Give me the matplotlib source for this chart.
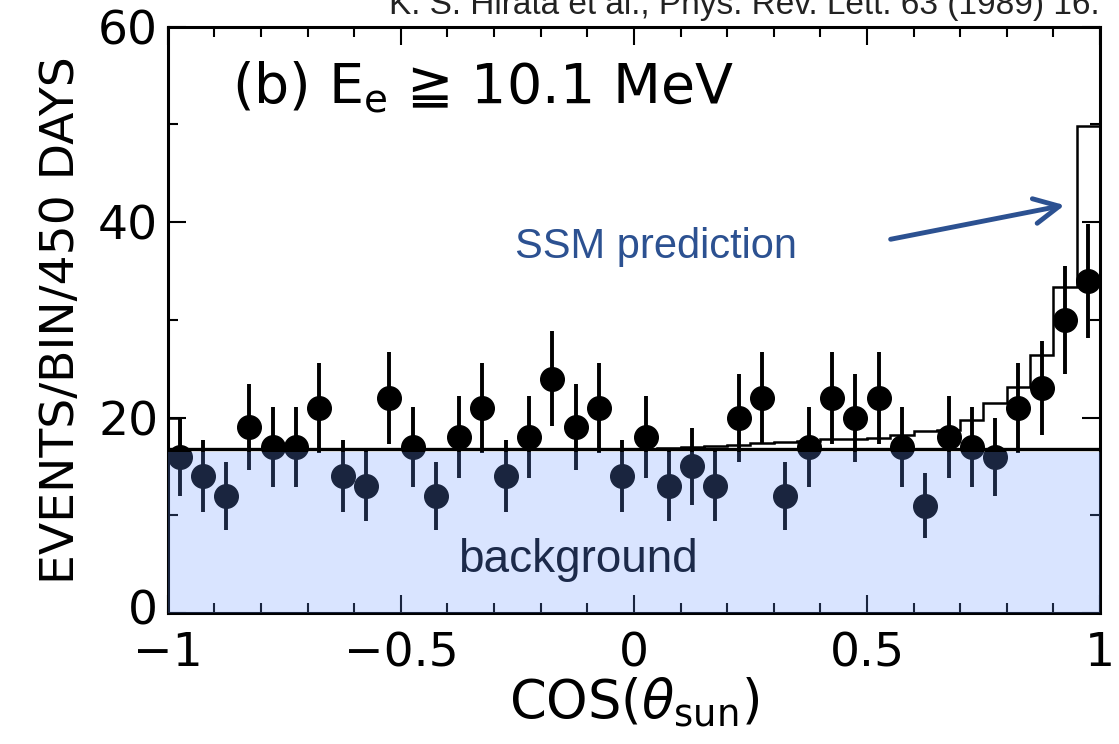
import numpy as np
import matplotlib
matplotlib.use("Agg")
import matplotlib.pyplot as plt
from matplotlib.ticker import MultipleLocator
from matplotlib.transforms import ScaledTranslation

plt.rcParams['font.family'] = ['DejaVu Sans']
plt.rcParams['mathtext.fontset'] = 'dejavusans'

# observed events per bin (40 bins in cos(theta_sun))
counts = [16, 14, 12, 19, 17, 17, 21, 14, 13, 22,
          17, 12, 18, 21, 14, 18, 24, 19, 21, 14,
          18, 13, 15, 13, 20, 22, 12, 17, 22, 20,
          22, 17, 11, 18, 17, 16, 21, 23, 30, 34]
errors = [4.0, 3.7, 3.5, 4.4, 4.1, 4.1, 4.6, 3.7, 3.6, 4.7,
          4.1, 3.5, 4.2, 4.6, 3.7, 4.2, 4.9, 4.4, 4.6, 3.7,
          4.2, 3.6, 3.9, 3.6, 4.5, 4.7, 3.5, 4.1, 4.7, 4.5,
          4.7, 4.1, 3.3, 4.2, 4.1, 4.0, 4.6, 4.8, 5.5, 5.8]

# SSM prediction (background + signal) per bin
ssm = [16.8] * 21 + [16.9, 17.0, 17.1, 17.2, 17.4, 17.5, 17.6, 17.8, 17.8,
                     17.9, 18.2, 18.6, 18.7, 19.8, 21.5, 23.1, 26.4, 33.4, 49.8]
ssm_bump = 20.0      # small step at the very left edge

bg_level = 16.8
bg_shade = 16.5

bin_edges = np.linspace(-1, 1, 41)
centers = 0.5 * (bin_edges[:-1] + bin_edges[1:])

fig = plt.figure(figsize=(11.19, 7.44), dpi=100)
ax = fig.add_axes([0.150, 0.176, 0.833, 0.788])

ax.errorbar(centers, counts, yerr=errors, fmt='o', color='black',
            ms=17, elinewidth=2.8, capsize=0, zorder=3)
ax.stairs(ssm, bin_edges, color='black', lw=1.8, baseline=None, zorder=2)
ax.stairs([ssm_bump], [-1, -0.975], color='black', lw=1.8,
          baseline=bg_level, zorder=2)
ax.axhline(bg_level, color='black', lw=2.4, zorder=2)

# blue background overlay
ax.axhspan(0, bg_shade, color='#6894ff', alpha=0.25, lw=0, zorder=5)

ax.set_xlim(-1, 1)
ax.set_ylim(0, 60)
ax.set_xticks([-1, -0.5, 0, 0.5, 1])
ax.set_xticklabels(['\u22121', '\u22120.5', '0', '0.5', '1'])
ax.set_yticks([0, 20, 40, 60])
ax.xaxis.set_minor_locator(MultipleLocator(0.1))
ax.yaxis.set_minor_locator(MultipleLocator(10))
ax.tick_params(which='both', direction='in', top=True, right=True, width=1.5)
ax.tick_params(which='major', length=13, labelsize=34)
ax.tick_params(which='minor', length=7)
ax.tick_params(axis='y', pad=7)
ax.tick_params(axis='x', pad=13)
for s in ax.spines.values():
    s.set_linewidth(2.2)

# nudge the "0" label up a little so it clears the "-1" below it
zero_lbl = ax.yaxis.get_major_ticks()[0].label1
zero_lbl.set_transform(zero_lbl.get_transform()
                       + ScaledTranslation(0, 6 / 100, fig.dpi_scale_trans))

ax.set_ylabel('EVENTS/BIN/450 DAYS', fontsize=34, labelpad=10)
ax.set_xlabel(r'COS($\theta_{\rm sun}$)', fontsize=38, labelpad=0)

ax.text(-0.863, 52.2, r'(b) E$_{\rm e}$ ' + '\u2267 10.1 MeV', fontsize=40,
        ha='left', va='baseline')
ax.text(-0.255, 36.3, 'SSM prediction', fontsize=30, color='#2c5191',
        family='Liberation Sans', ha='left', va='baseline')
ax.text(-0.378, 4.2, 'background', fontsize=33, color='#1c2a4a',
        family='Liberation Sans', ha='left', va='baseline', zorder=6)
ax.annotate('', xy=(0.93, 41.8), xytext=(0.545, 38.2),
            arrowprops=dict(arrowstyle='->', color='#2c5191', lw=3.5,
                            mutation_scale=45))

fig.text(0.983, 1 - 14 / 744, 'K. S. Hirata et al., Phys. Rev. Lett. 63 (1989) 16.',
         fontsize=24, color='#222222', family='Liberation Sans',
         ha='right', va='baseline')

fig.savefig('out.png', dpi=100)
